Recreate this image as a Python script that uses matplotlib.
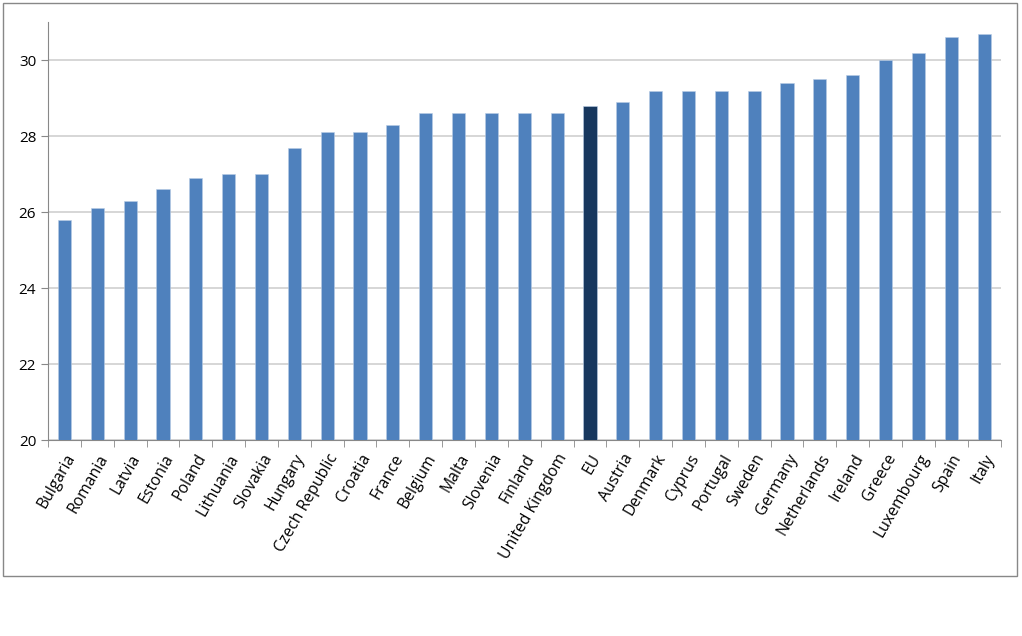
import matplotlib.pyplot as plt
from matplotlib.patches import Rectangle
import numpy as np

countries = ['Bulgaria', 'Romania', 'Latvia', 'Estonia', 'Poland', 'Lithuania',
             'Slovakia', 'Hungary', 'Czech Republic', 'Croatia', 'France',
             'Belgium', 'Malta', 'Slovenia', 'Finland', 'United Kingdom', 'EU',
             'Austria', 'Denmark', 'Cyprus', 'Portugal', 'Sweden', 'Germany',
             'Netherlands', 'Ireland', 'Greece', 'Luxembourg', 'Spain', 'Italy']
values = [25.8, 26.1, 26.3, 26.6, 26.9, 27.0, 27.0, 27.7, 28.1, 28.1, 28.3,
          28.6, 28.6, 28.6, 28.6, 28.6, 28.8, 28.9, 29.2, 29.2, 29.2, 29.2,
          29.4, 29.5, 29.6, 30.0, 30.2, 30.6, 30.7]
highlight = 'EU'

plt.rcParams['font.family'] = ['Open Sans', 'DejaVu Sans']

fig = plt.figure(figsize=(10.22, 6.36), dpi=100)
ax = fig.add_axes([0.047, 0.308, 0.932, 0.657])

x = np.arange(len(countries))
colors = ['#17375e' if c == highlight else '#4f81bd' for c in countries]
ax.bar(x, values, width=0.4, color=colors, edgecolor='#b9cde5', linewidth=0.4, zorder=3)

ax.set_ylim(20, 31)
ax.set_xlim(-0.5, len(countries) - 0.5)
ax.set_yticks(range(20, 31, 2))
ax.yaxis.grid(True, color='#d0d0d0', linewidth=1.2, zorder=0)

ax.set_xticks(x)
ax.set_xticklabels(countries, rotation=60, ha='right', rotation_mode='anchor', fontsize=11.3)
ax.set_xticks(np.arange(-0.5, len(countries)), minor=True)
ax.tick_params(axis='x', which='major', length=0, pad=8)
ax.tick_params(axis='x', which='minor', length=5, color='#888888')
ax.tick_params(axis='y', length=5, color='#888888', labelsize=11)

for s in ['top', 'right']:
    ax.spines[s].set_visible(False)
for s in ['left', 'bottom']:
    ax.spines[s].set_color('#888888')

fig.patches.append(Rectangle((3 / 1022, 1 - 576 / 636), 1014 / 1022, 573 / 636,
                             transform=fig.transFigure, fill=False,
                             edgecolor='#888888', linewidth=1))

fig.savefig('out.png', dpi=100)
